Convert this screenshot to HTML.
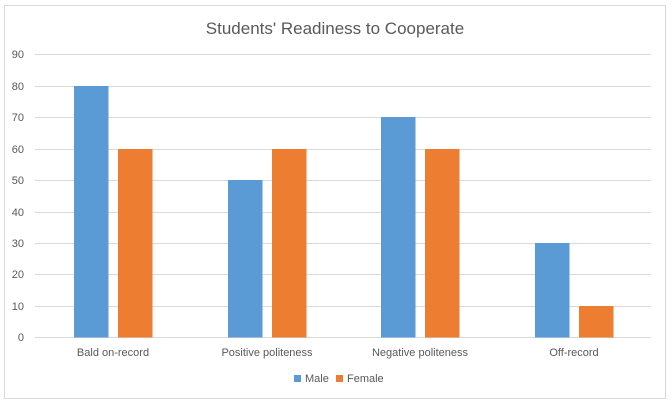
<!DOCTYPE html>
<html><head><style>body{margin:0;background:#fff}svg{display:block}</style></head><body>
<svg width="672" height="404" xmlns="http://www.w3.org/2000/svg" font-family="Liberation Sans, sans-serif">
<rect x="0" y="0" width="672" height="404" fill="#fff"/>
<rect x="4.5" y="5.5" width="661" height="393" fill="#fff" stroke="#d9d9d9"/>
<text x="335" y="34" text-anchor="middle" font-size="17" fill="#595959">Students' Readiness to Cooperate</text>
<g stroke="#d9d9d9" stroke-width="1">
<line x1="35" x2="651" y1="54.5" y2="54.5"/><line x1="35" x2="651" y1="86.5" y2="86.5"/>
<line x1="35" x2="651" y1="117.5" y2="117.5"/><line x1="35" x2="651" y1="149.5" y2="149.5"/>
<line x1="35" x2="651" y1="180.5" y2="180.5"/><line x1="35" x2="651" y1="212.5" y2="212.5"/>
<line x1="35" x2="651" y1="243.5" y2="243.5"/><line x1="35" x2="651" y1="274.5" y2="274.5"/>
<line x1="35" x2="651" y1="306.5" y2="306.5"/><line x1="35" x2="651" y1="337.5" y2="337.5"/>
</g>
<g font-size="11" fill="#595959" text-anchor="end">
<text x="24" y="58">90</text><text x="24" y="90">80</text><text x="24" y="121">70</text>
<text x="24" y="153">60</text><text x="24" y="184">50</text><text x="24" y="216">40</text>
<text x="24" y="247">30</text><text x="24" y="278">20</text><text x="24" y="310">10</text><text x="24" y="341">0</text>
</g>
<g fill="#5b9bd5">
<rect x="74" y="86" width="34.5" height="251.5"/>
<rect x="228" y="180" width="34.5" height="157.5"/>
<rect x="381" y="117" width="34.5" height="220.5"/>
<rect x="535" y="243" width="34.5" height="94.5"/>
</g>
<g fill="#ed7d31">
<rect x="118" y="149" width="34.5" height="188.5"/>
<rect x="272" y="149" width="34.5" height="188.5"/>
<rect x="425" y="149" width="34.5" height="188.5"/>
<rect x="579" y="306" width="34.5" height="31.5"/>
</g>
<g font-size="11" fill="#595959" text-anchor="middle">
<text x="113" y="356">Bald on-record</text>
<text x="267" y="356">Positive politeness</text>
<text x="420" y="356">Negative politeness</text>
<text x="574" y="356">Off-record</text>
</g>
<rect x="294" y="375" width="7" height="7" fill="#5b9bd5"/>
<text x="305" y="382" font-size="11" fill="#595959">Male</text>
<rect x="336" y="375" width="7" height="7" fill="#ed7d31"/>
<text x="347" y="382" font-size="11" fill="#595959">Female</text>
</svg>
</body></html>
